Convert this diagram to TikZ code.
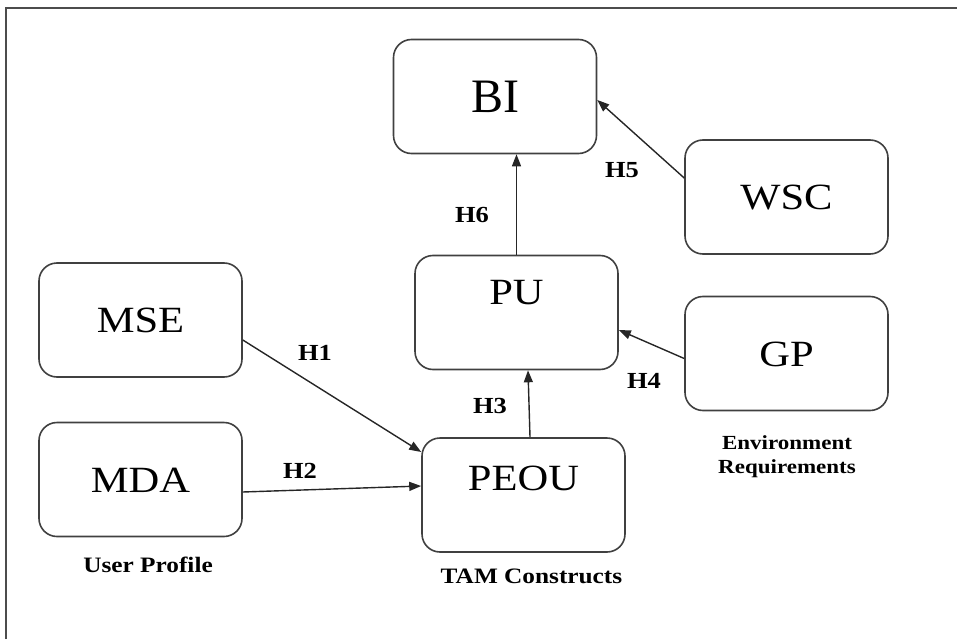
\documentclass[tikz,border=0pt]{standalone}
\usepackage{fontspec}
\setmainfont{Liberation Serif}[FakeStretch=1.15]
\newfontfamily\bifont{Liberation Serif}
\usepackage{tikz}
\usetikzlibrary{arrows.meta, calc}

\begin{document}
\begin{tikzpicture}[x=1pt, y=-1pt, >={Triangle[length=12pt,width=9pt]},
    box/.style={draw=black!75, line width=1.6pt, rounded corners=18pt,
      minimum width=203pt, minimum height=114pt, inner sep=0pt,
      text height=25pt, text depth=0pt, font=\fontsize{37}{44}\selectfont},
    raised/.style={text depth=#1},
    hyp/.style={font=\bfseries\fontsize{23}{26}\selectfont},
    grp/.style={font=\bfseries\fontsize{22}{24}\selectfont, align=center}]
      \useasboundingbox (0,0) rectangle (957,639);
      \draw[line width=1.5pt, black!70] (6,639) -- (6,8) -- (957,8);

      \node[box, text height=32pt, font=\bifont\fontsize{48}{54}\selectfont] (bi) at (495,96.5) {BI};
      \node[box] (wsc) at (786.5,197) {WSC};
      \node[box, raised=42pt] (pu) at (516.5,312.5) {PU};
      \node[box] (gp) at (786.5,353.5) {GP};
      \node[box] (mse) at (140.5,320) {MSE};
      \node[box] (mda) at (140.5,479.5) {MDA};
      \node[box, raised=34pt] (peou) at (523.5,495) {PEOU};

      \node[hyp] (h1) at (315,353) {H1};
      \node[hyp] (h2) at (300,471) {H2};
      \node[hyp] (h3) at (490,406) {H3};
      \node[hyp] (h4) at (644,381) {H4};
      \node[hyp] (h5) at (622,170) {H5};
      \node[hyp] (h6) at (472,215) {H6};

      \node[grp, anchor=base] (user) at (148,572) {User Profile};
      \node[grp, anchor=base] (tam) at (531.5,583) {TAM Constructs};
      \node[grp, font=\bfseries\fontsize{20}{24}\selectfont] (env) at (787,457) {Environment\\Requirements};

      \path[->, black!85, line width=1.4pt]
                ($(mse.east)+(0,20)$) edge ($(peou.west)+(0,-43)$)
                ($(mda.east)+(0,12.5)$) edge ($(peou.west)+(0,-9)$)
                ($(peou.north)+(6.5,0)$) edge ($(pu.south)+(11.5,0)$)
                (pu.north) edge (pu.north |- bi.south)
                ($(wsc.west)+(0,-19)$) edge ($(bi.east)+(0,3.5)$)
                ($(gp.west)+(0,5)$) edge ($(pu.east)+(0,17.5)$);
     \end{tikzpicture}
\end{document}
